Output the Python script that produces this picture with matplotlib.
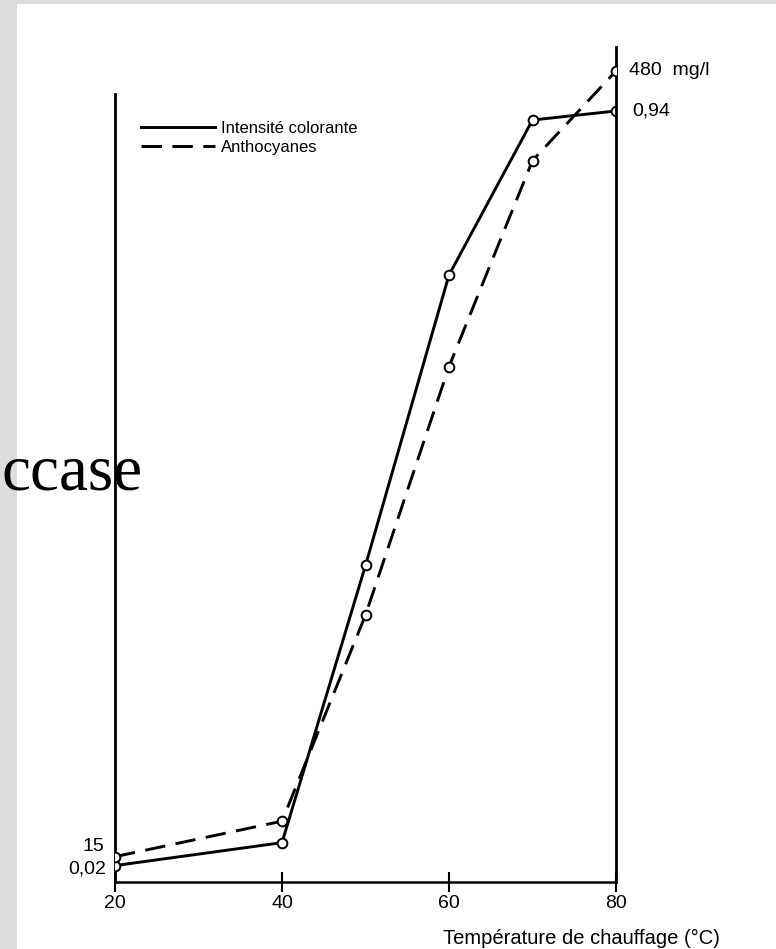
import matplotlib
matplotlib.use("Agg")
import matplotlib.pyplot as plt
from matplotlib.patches import Rectangle

# ---- data ----
temperature = [20, 40, 50, 60, 70, 80]
intensite = [0.02, 0.048, 0.386, 0.740, 0.929, 0.94]
anthocyanes = [15, 36, 158, 305, 427, 480]
xticks = [20, 40, 60, 80]
legend_labels = ["Intensité colorante", "Anthocyanes"]
xlabel = "Température de chauffage (°C)"

plt.rcParams['font.family'] = ['Liberation Sans', 'DejaVu Sans']

W, H = 776, 949
fig = plt.figure(figsize=(W / 100, H / 100), dpi=100, facecolor='#dcdcdc')
# white page
fig.patches.append(Rectangle((17 / W, 0), 1, 1 - 4 / H, transform=fig.transFigure,
                             facecolor='white', edgecolor='none', zorder=-10))

ax = fig.add_axes([115 / W, 1 - 882 / H, 501 / W, 835 / H])
ax.set_facecolor('none')
ax2 = ax.twinx()
ax2.set_facecolor('none')

ax.set_xlim(20, 80)
ax.set_ylim(0, 1.018)
ax2.set_ylim(0, 494.2)

lw = 2.1
ax.plot(temperature, intensite, color='black', lw=lw, marker='o', ms=7,
        mfc='white', mec='black', mew=1.4, label=legend_labels[0], zorder=3)
ax2.plot(temperature, anthocyanes, color='black', lw=lw, ls=(0, (7, 3.6)), marker='o', ms=7,
         mfc='white', mec='black', mew=1.4, label=legend_labels[1], zorder=3)

ax.spines['top'].set_visible(False)
ax.spines['right'].set_visible(False)
for s in ['top', 'left', 'bottom']:
    ax2.spines[s].set_visible(False)
ax2.spines['right'].set_linewidth(2)
ax.spines['left'].set_linewidth(2)
ax.spines['bottom'].set_linewidth(1.8)
ax.spines['left'].set_bounds(0, 0.9607)

ax.set_xticks(xticks)
ax.set_xticklabels([str(t) for t in xticks])
ax.tick_params(axis='x', direction='inout', length=14, width=1.5, labelsize=14, pad=2)
ax.set_yticks([])
ax2.set_yticks([])

ax.annotate("0,02", (temperature[0], intensite[0]), xytext=(-9, -3), textcoords='offset pixels',
            ha='right', va='center', fontsize=14)
ax2.annotate("15", (temperature[0], anthocyanes[0]), xytext=(-11, 10), textcoords='offset pixels',
             ha='right', va='center', fontsize=14)
ax2.annotate("480  mg/l", (temperature[-1], anthocyanes[-1]), xytext=(13, 0), textcoords='offset pixels',
             ha='left', va='center', fontsize=14)
ax.annotate("0,94", (temperature[-1], intensite[-1]), xytext=(16, 0), textcoords='offset pixels',
            ha='left', va='center', fontsize=14)

fig.text(720 / W, 1 - 938 / H, xlabel, ha='right', va='center', fontsize=14.5)

h1, l1 = ax.get_legend_handles_labels()
h2, l2 = ax2.get_legend_handles_labels()
leg = ax2.legend(h1 + h2, l1 + l2, loc='upper left', bbox_to_anchor=(0.036, 0.921),
                 frameon=False, fontsize=12, handlelength=4.4, handletextpad=0.35,
                 labelspacing=0.2, borderpad=0)
for h in leg.legend_handles:
    h.set_marker('')

fig.text(1 / W, 1 - 489 / H, "ccase", family=['Liberation Serif', 'DejaVu Serif'],
         fontsize=47, ha='left', va='baseline')

fig.savefig('out.png', dpi=100, facecolor=fig.get_facecolor())
